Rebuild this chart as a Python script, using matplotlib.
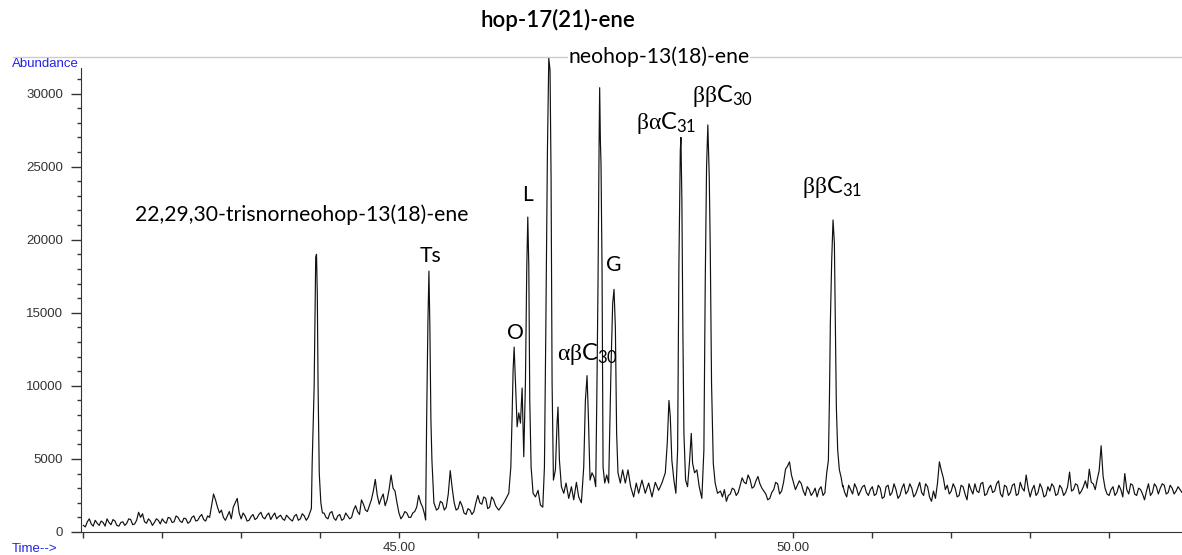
import matplotlib
matplotlib.use('Agg')
import matplotlib.pyplot as plt
from matplotlib.ticker import FixedLocator, FuncFormatter
from matplotlib.lines import Line2D

# ---------------- data ----------------
baseline_t0 = 41.0
baseline_dt = 0.05
# abundance on a 0.05 min grid; None where the peak lists below take over
baseline = [
    # 41.00 - 41.95
    450, 700, 550, 800, 450, 650, 900, 500, 750, 400, 700, 600, 850, 550, 1350, 1250, 600, 750, 650, 800,
    # 42.00 - 42.95
    900, 600, 950, 700, 1000, 650, 900, 700, 1100, 800, 1200, 750, 1000, 2600, 1700, 1500, 800, 1400, 1700, 2300,
    # 43.00 - 43.95
    900, 1100, 800, 1200, 950, 1350, 900, 1300, 1100, 900, 1150, 800, 1000, 750, 1200, 900, 1100, 1000, None, None,
    # 44.00 - 44.95
    None, 1300, 900, 1400, 800, 1200, 900, 1100, 1000, 1800, 1200, 1900, 1400, 2200, 3600, 1900, 2600, 2200, 3900, 2800,
    # 45.00 - 45.95
    1300, 1100, 1300, 1000, 1400, 2500, 1700, None, None, 1900, 1600, 2000, 1700, 4200, 2000, 1600, 1800, 1200, 1500, 1400,
    # 46.00 - 46.95
    2500, 1900, 2300, 1700, 2200, 1600, None, None, None, None, None, None, None, None, None, None, None, None, None, None,
    # 47.00 - 47.95
    None, None, None, None, None, None, None, None, None, None, None, None, None, None, None, None, None, None, None, None,
    # 48.00 - 48.95
    None, None, None, None, None, None, None, None, None, None, None, None, None, None, None, None, None, None, None, None,
    # 49.00 - 49.95
    None, None, 2400, 2100, 2600, 2900, 2700, 3700, 3300, 3600, 3100, 3800, 3000, 2600, 2300, 2900, 3300, 2800, 4300, 4800,
    # 50.00 - 50.95
    3400, 3200, 3300, 2500, 2900, 2700, 2400, 3100, 2700, None, None, None, None, 2700, 3200, 2600, 3000, 2800, 3200, 2500,
    # 51.00 - 51.95
    3100, 2600, 3000, 2400, 3200, 2700, 2900, 2500, 3300, 2800, 3000, 2600, 3400, 2500, 3100, 2100, 2300, 4800, 3700, 3200,
    # 52.00 - 52.95
    2800, 3000, 2500, 3100, 2200, 2900, 3300, 2700, 3400, 2600, 3200, 2800, 3500, 2400, 3100, 2700, 3300, 2600, 3000, 3900,
    # 53.00 - 53.95
    2400, 3200, 2700, 3000, 2500, 2800, 3100, 2600, 3000, 2700, 4100, 2900, 3200, 2800, 3500, 4300, 3300, 3600, 5900, 3000,
    # 54.00 - 54.90
    2500, 3100, 2700, 2900, 4000, 2600, 3200, 2500, 2900, 2200, 3300, 2700, 3100, 3000, 3200, 2700, 3000, 2800, 2900,
]

# noise samples between the grid points above (t = 41.025 + 0.05 i)
baseline_mid_t0 = 41.025
baseline_mid = [
    # 41
    350, 900, 400, 600, 750, 400, 650, 850, 450, 650, 450, 900, 500, 800, 1000, 700, 900, 450, 900, 550,
    # 42
    700, 1000, 650, 1100, 750, 950, 600, 1000, 750, 1050, 850, 1100, 1800, 2200, 1300, 1000, 1100, 900, 2000, 1300,
    # 43
    1300, 750, 1050, 850, 1200, 1000, 1150, 850, 1300, 1050, 900, 1150, 850, 1100, 800, 1250, 800, None, None, None,
    # 44
    None, 1000, 1300, 950, 1100, 800, 1300, 900, 1500, 1400, 2200, 1500, 1800, 2800, 2500, 2300, 1800, 2900, 3000, 2000,
    # 45
    900, 1400, 1000, 1300, 1700, 2000, 1200, None, None, 1500, 2100, 1500, 2600, 3000, 1500, 2100, 1300, 1600, 1200, 2000,
    # 46
    2000, 2400, 1600, 2400, 1800, None, None, None, None, None, None, None, None, None, None, None, None, None, None, None,
    # 47
    None, None, None, None, None, None, None, None, None, None, None, None, None, None, None, None, None, None, None, None,
    # 48
    None, None, None, None, None, None, None, None, None, None, None, None, None, None, None, None, None, None, None, None,
    # 49
    None, 2800, 2900, 2500, 3000, 2500, 3200, 3400, 3900, 3000, 3500, 3300, 2800, 2200, 2700, 3400, 2600, 3400, 4500, 3900,
    # 50
    2900, 3500, 2800, 3100, 2500, 3000, 2900, 2500, None, None, None, None, 3200, 2400, 2900, 3300, 2500, 3100, 2700, 2900,
    # 51
    2500, 3200, 2300, 3100, 2500, 3300, 2300, 3000, 2600, 3300, 2400, 3000, 2700, 3300, 2400, 2800, 3300, 4200, 2900, 2600,
    # 52
    3300, 2400, 3200, 2600, 3300, 2600, 2800, 3300, 2500, 3000, 2700, 3300, 2600, 3200, 2500, 3200, 2500, 3400, 2800, 3000,
    # 53
    2900, 2500, 3300, 2400, 3100, 3300, 2500, 3200, 2500, 3100, 2800, 3300, 2600, 3100, 3000, 3400, 2900, 4200, 3800, 2600,
    # 54
    2900, 2500, 3200, 2400, 2900, 3300, 2600, 3000, 2600, 2800, 2500, 3300, 2600, 3300, 2600, 3200, 2600, 3100, 2700,
]

# detailed points through the peaks
peak_t = [
    # 22,29,30-trisnorneohop-13(18)-ene
    43.87, 43.89, 43.90, 43.925, 43.945, 43.955, 43.965, 43.975, 43.99, 44.01, 44.03,
    # Ts
    45.338, 45.351, 45.367, 45.380, 45.392, 45.405, 45.418, 45.443,
    # O, L, hop-17(21)-ene, abC30, neohop, G, baC31, bbC30 cluster
    46.266, 46.329, 46.392, 46.418, 46.434, 46.447, 46.460, 46.477, 46.498, 46.519,
    46.540, 46.561, 46.582, 46.603, 46.620, 46.633, 46.646, 46.658, 46.675, 46.700,
    46.730, 46.763, 46.793, 46.823, 46.844, 46.861, 46.882, 46.899, 46.915, 46.928,
    46.941, 46.958, 46.983, 47.004, 47.016, 47.034, 47.059, 47.089, 47.118, 47.152,
    47.186, 47.215, 47.249, 47.278, 47.312, 47.342, 47.363, 47.384, 47.401, 47.422,
    47.447, 47.473, 47.494, 47.510, 47.523, 47.536, 47.544, 47.553, 47.561, 47.574,
    47.587, 47.608, 47.633, 47.658, 47.688, 47.709, 47.726, 47.743, 47.759, 47.776,
    47.806, 47.835, 47.869, 47.903, 47.937, 47.975, 48.008, 48.038, 48.080, 48.122,
    48.165, 48.207, 48.249, 48.291, 48.333, 48.376, 48.401, 48.422, 48.439, 48.459,
    48.485, 48.510, 48.532, 48.548, 48.566, 48.574, 48.586, 48.599, 48.612, 48.633,
    48.658, 48.684, 48.705, 48.722, 48.747, 48.776, 48.806, 48.839, 48.865, 48.882,
    48.899, 48.915, 48.933, 48.946, 48.962, 48.984, 49.008, 49.038,
    # bbC31
    50.401, 50.422, 50.443, 50.456, 50.468, 50.485, 50.502, 50.519, 50.532, 50.544,
    50.561, 50.582, 50.604, 50.624,
]
peak_a = [
    1300, 1600, 4700, 9900, 18800, 19000, 16300, 9900, 4000, 2000, 1300,
    820, 7660, 14300, 17850, 14000, 7660, 4900, 2000,
    1500, 2000, 2650, 4450, 7900, 11100, 12650, 10200, 7200, 8150,
    7450, 9850, 5150, 10200, 18100, 21550, 18100, 9000, 4450, 2650,
    2400, 2850, 1850, 1700, 4450, 13600, 26100, 32400, 31600, 24300,
    10200, 3550, 4250, 7450, 8550, 4900, 3100, 2650, 3350, 2300,
    3100, 2200, 3400, 2400, 2000, 4450, 9000, 10700, 7900, 3550,
    4050, 3750, 3100, 10200, 17000, 26100, 30400, 26800, 25200, 18100,
    4450, 3350, 3900, 3350, 11300, 15650, 16600, 14000, 6750, 4050,
    3350, 4250, 3350, 4250, 3100, 2400, 3350, 2650, 3550, 2650,
    3350, 2400, 3400, 2850, 3350, 4050, 6100, 9000, 7900, 4900,
    3550, 2650, 5600, 18100, 26100, 27000, 22700, 13600, 6750, 3550,
    3100, 4900, 6750, 4700, 4050, 4250, 3100, 2300, 5600, 17000,
    25000, 27850, 24300, 19300, 10200, 4700, 3350, 2650,
    2850, 4050, 4900, 9000, 14300, 18600, 21350, 19750, 13600, 8550,
    5600, 4250, 3750, 3100,
]

x_major = [45, 50]
x_minor = list(range(41, 55))
y_major = list(range(0, 30001, 5000))
y_minor = list(range(0, 31001, 1000))

label_texts = [
    '22,29,30-trisnorneohop-13(18)-ene', 'Ts', 'O', 'L',
    r'$\alpha\beta\mathrm{C}_{30}$', 'neohop-13(18)-ene', 'G',
    r'$\beta\alpha\mathrm{C}_{31}$', r'$\beta\beta\mathrm{C}_{30}$', r'$\beta\beta\mathrm{C}_{31}$',
]
label_t = [43.77, 45.406, 46.48, 46.635, 47.39, 48.296, 47.725, 48.384, 49.094, 50.488]
label_a = [21680, 18880, 13600, 23050, 12150, 32490, 18260, 28000, 29800, 23600]
top_label = 'hop-17(21)-ene'
top_label_t = 47.016
top_label_a = 35020

# ---------------- figure ----------------
plt.rcParams['mathtext.fontset'] = 'custom'
plt.rcParams['mathtext.rm'] = 'Lato'
plt.rcParams['mathtext.it'] = 'Liberation Serif'
plt.rcParams['mathtext.bf'] = 'Lato:bold'

W, H = 1182, 555
fig = plt.figure(figsize=(W / 100, H / 100), dpi=100)
ax = fig.add_axes([81 / W, 23 / H, 1101 / W, 475 / H])
ax.patch.set_visible(False)

pts = [(baseline_t0 + i * baseline_dt, v) for i, v in enumerate(baseline) if v is not None]
pts += [(baseline_mid_t0 + i * baseline_dt, v) for i, v in enumerate(baseline_mid) if v is not None]
pts += list(zip(peak_t, peak_a))
pts.sort()
ts = [p[0] for p in pts]
vs = [p[1] for p in pts]
ax.plot(ts, vs, color='#111111', lw=0.85)

ax.set_xlim(40.97, 54.925)
ax.set_ylim(0, 32500)

for s in ('top', 'right'):
    ax.spines[s].set_visible(False)
ax.spines['left'].set_bounds(0, 31750)
ax.spines['left'].set_color('#333333')
ax.spines['bottom'].set_color('#333333')

ax.xaxis.set_major_locator(FixedLocator(x_major))
ax.xaxis.set_minor_locator(FixedLocator(x_minor))
ax.xaxis.set_major_formatter(FuncFormatter(lambda v, p: f'{v:.2f}'))
ax.yaxis.set_major_locator(FixedLocator(y_major))
ax.yaxis.set_minor_locator(FixedLocator(y_minor))
ax.yaxis.set_major_formatter(FuncFormatter(lambda v, p: f'{int(v)}'))

ax.tick_params(axis='x', which='both', direction='out', length=4, width=1, color='#333333',
               labelsize=9.5, labelcolor='#333333', pad=3)
ax.tick_params(axis='y', which='major', direction='out', length=7, width=1, color='#333333',
               labelsize=9.5, labelcolor='#333333', pad=6)
ax.tick_params(axis='y', which='minor', direction='out', length=3, width=1, color='#333333')
for lab in ax.get_xticklabels() + ax.get_yticklabels():
    lab.set_fontfamily('Liberation Sans')

# axis captions
fig.text(12 / W, 1 - 64 / H, 'Abundance', color='#2323e6', fontsize=9.5,
         family='Liberation Sans', ha='left', va='center')
fig.text(12 / W, 1 - 549 / H, 'Time-->', color='#2323e6', fontsize=9.5,
         family='Liberation Sans', ha='left', va='center')

# top border line (behind everything)
fig.add_artist(Line2D([13 / W, 1.0], [1 - 56.5 / H, 1 - 56.5 / H], color='#cccccc', lw=1,
                      zorder=-5))

# peak labels
for txt, t, a in zip(label_texts, label_t, label_a):
    size = 17 if txt.startswith('$') else 15.2
    kw = {}
    if txt.startswith('neohop'):
        kw['bbox'] = dict(facecolor='white', edgecolor='none', pad=0.5)
    ax.text(t, a, txt, ha='center', va='center', fontsize=size, family='Lato',
            color='black', clip_on=False, **kw)
ax.text(top_label_t, top_label_a, top_label, ha='center', va='center', fontsize=16,
        family='Lato', fontweight='semibold', color='black', clip_on=False)

fig.savefig('out.png', dpi=100)
